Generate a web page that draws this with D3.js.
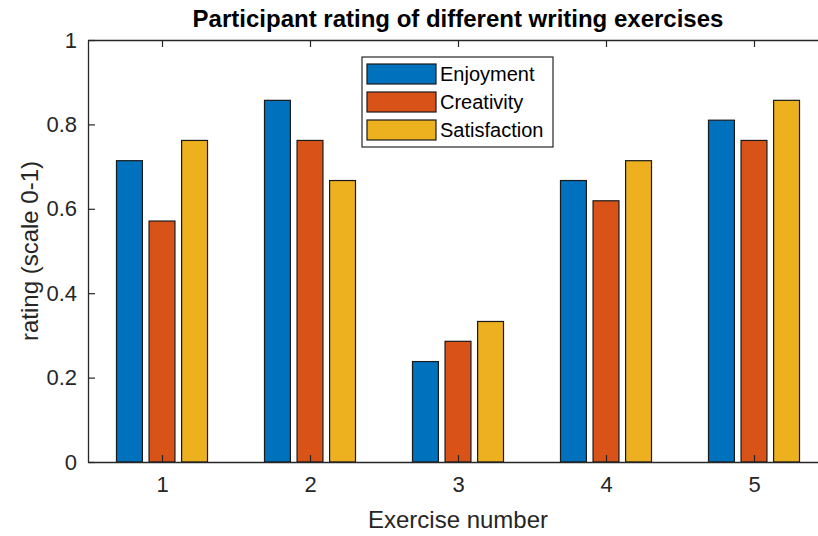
<!DOCTYPE html>
<html>
<head>
<meta charset="utf-8">
<script src="https://cdn.jsdelivr.net/npm/d3@7"></script>
<style>
  html, body { margin: 0; padding: 0; background: #fff; }
  svg { display: block; font-family: "Liberation Sans", Arial, Helvetica, sans-serif; }
</style>
</head>
<body>
<svg id="chart" width="818" height="536"></svg>
<script>
// ---- data ----
const categories = [1, 2, 3, 4, 5];
const seriesNames = ["Enjoyment", "Creativity", "Satisfaction"];
const enjoyment = [0.714, 0.857, 0.238, 0.667, 0.810];
const creativity = [0.571, 0.762, 0.286, 0.619, 0.762];
const satisfaction = [0.762, 0.667, 0.333, 0.714, 0.857];
const yTicks = [0, 0.2, 0.4, 0.6, 0.8, 1];
const titleText = "Participant rating of different writing exercises";
const xLabelText = "Exercise number";
const yLabelText = "rating (scale 0-1)";

(function () {
// ---- layout ----
const colors = ["#0072BD", "#D95319", "#EDB120"];
const axisColor = "#262626";
const pLeft = 88, pRight = 828, pTop = 40, pBottom = 462;
const barOffsets = [-0.22, 0, 0.22];
const barWidth = 0.175;

const svg = d3.select("#chart");
const x = d3.scaleLinear().domain([0.5, 5.5]).range([pLeft, pRight]);
const y = d3.scaleLinear().domain([0, 1]).range([pBottom, pTop]);

const series = [enjoyment, creativity, satisfaction];

// bars
series.forEach((vals, si) => {
  svg.append("g").selectAll("rect")
    .data(vals)
    .join("rect")
    .attr("x", (d, i) => x(categories[i] + barOffsets[si] - barWidth / 2))
    .attr("width", x(barWidth) - x(0))
    .attr("y", d => y(d))
    .attr("height", d => y(0) - y(d))
    .attr("fill", colors[si])
    .attr("stroke", "#1a1a1a")
    .attr("stroke-width", 1.2);
});

// axes (MATLAB-style inward ticks)
const tickLen = 7;
const xBottom = svg.append("g").attr("transform", `translate(0,${pBottom})`)
  .call(d3.axisBottom(x).tickValues(categories).tickFormat(d3.format("d")).tickSizeInner(-tickLen).tickSizeOuter(0).tickPadding(14));
const xTop = svg.append("g").attr("transform", `translate(0,${pTop})`)
  .call(d3.axisTop(x).tickValues(categories).tickFormat("").tickSizeInner(-tickLen).tickSizeOuter(0));
const yLeft = svg.append("g").attr("transform", `translate(${pLeft},0)`)
  .call(d3.axisLeft(y).tickValues(yTicks).tickFormat(d => d === 0 || d === 1 ? d3.format("d")(d) : d3.format(".1f")(d)).tickSizeInner(-tickLen).tickSizeOuter(0).tickPadding(11));

[xBottom, xTop, yLeft].forEach(g => {
  g.select(".domain").attr("stroke", axisColor).attr("stroke-width", 1.3);
  g.selectAll(".tick line").attr("stroke", axisColor).attr("stroke-width", 1.2);
  g.selectAll(".tick text").attr("fill", axisColor).attr("font-size", 22)
    .attr("font-family", "'Liberation Sans', Arial, sans-serif");
});

// title
svg.append("text")
  .attr("x", (pLeft + pRight) / 2).attr("y", 27)
  .attr("text-anchor", "middle")
  .attr("font-size", 24).attr("font-weight", "bold").attr("fill", "#000")
  .text(titleText);

// x label
svg.append("text")
  .attr("x", (pLeft + pRight) / 2).attr("y", 528)
  .attr("text-anchor", "middle")
  .attr("font-size", 24).attr("fill", axisColor)
  .text(xLabelText);

// y label
svg.append("text")
  .attr("transform", `translate(38,${(pTop + pBottom) / 2}) rotate(-90)`)
  .attr("text-anchor", "middle")
  .attr("font-size", 24).attr("fill", axisColor)
  .text(yLabelText);

// legend
const lg = svg.append("g").attr("transform", "translate(362,57)");
lg.append("rect").attr("width", 191).attr("height", 90)
  .attr("fill", "#fff").attr("stroke", axisColor).attr("stroke-width", 1.2);
seriesNames.forEach((name, i) => {
  const row = lg.append("g").attr("transform", `translate(0,${17 + i * 28})`);
  row.append("rect").attr("x", 5).attr("y", -10).attr("width", 69).attr("height", 20)
    .attr("fill", colors[i]).attr("stroke", "#1a1a1a").attr("stroke-width", 1.2);
  row.append("text").attr("x", 78).attr("y", 0).attr("dy", "0.35em")
    .attr("font-size", 20).attr("fill", "#000").text(name);
});
})();
</script>
</body>
</html>
